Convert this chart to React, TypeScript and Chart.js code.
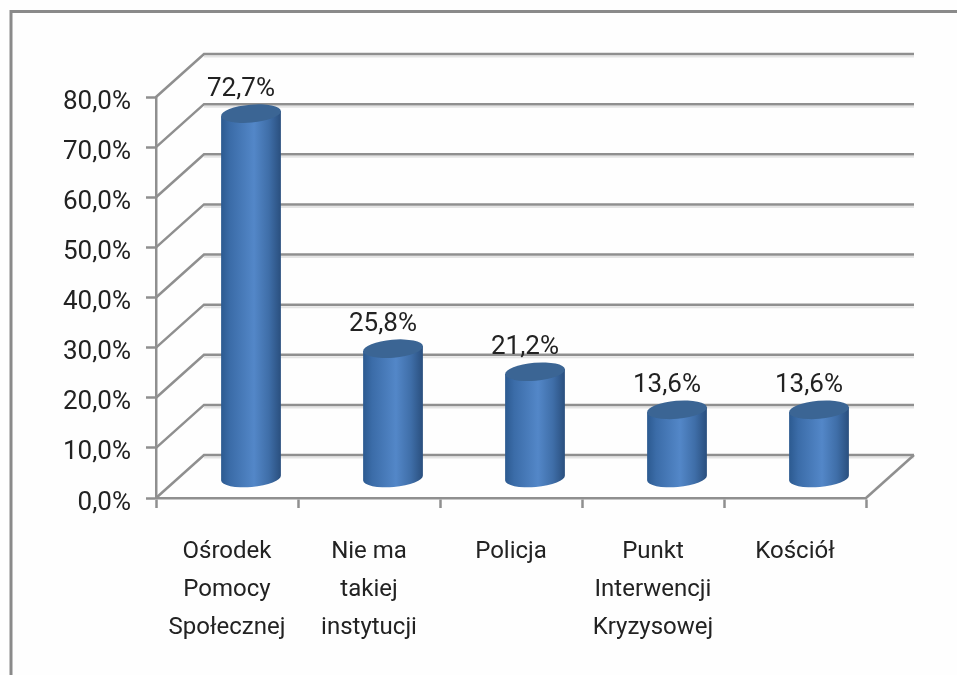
import React, { useEffect, useRef } from "react";
import { Chart, registerables } from "chart.js";

Chart.register(...registerables);

const categories = [
  ["Ośrodek", "Pomocy", "Społecznej"],
  ["Nie ma", "takiej", "instytucji"],
  ["Policja"],
  ["Punkt", "Interwencji", "Kryzysowej"],
  ["Kościół"],
];
const values = [72.7, 25.8, 21.2, 13.6, 13.6];
const yMax = 80;
const yStep = 10;

const FONT = "Roboto";
const TEXT = "#222222";
const GRID = "#8f8f8f";
const DEPTH_X = 48;
const DEPTH_Y = 43;

const fmt = (v: number) => v.toFixed(1).replace(".", ",") + "%";

const cylinders = {
  id: "cylinders",
  beforeDraw(chart: any) {
    const { ctx, width, height } = chart;
    ctx.save();
    ctx.fillStyle = "#fefefe";
    ctx.fillRect(0, 0, width, height);
    ctx.strokeStyle = "#8a8a8a";
    ctx.lineWidth = 3;
    ctx.beginPath();
    ctx.moveTo(11, height);
    ctx.lineTo(11, 11.5);
    ctx.lineTo(width, 11.5);
    ctx.stroke();
    ctx.restore();
  },
  beforeDatasetsDraw(chart: any) {
    const { ctx, scales } = chart;
    const { x: xs, y: ys } = scales;
    const L = xs.left;
    const R = xs.right;
    ctx.save();
    ys.ticks.forEach((t: any) => {
      const y = ys.getPixelForValue(t.value);
      ctx.strokeStyle = "#e4e4e4";
      ctx.lineWidth = 2;
      ctx.beginPath();
      ctx.moveTo(L + DEPTH_X, y - DEPTH_Y + 2.5);
      ctx.lineTo(R + DEPTH_X, y - DEPTH_Y + 2.5);
      ctx.stroke();
      ctx.strokeStyle = GRID;
      ctx.lineWidth = 2.5;
      ctx.beginPath();
      ctx.moveTo(L, y);
      ctx.lineTo(L + DEPTH_X, y - DEPTH_Y);
      ctx.lineTo(R + DEPTH_X, y - DEPTH_Y);
      ctx.stroke();
    });
    const y0 = ys.getPixelForValue(0);
    ctx.beginPath();
    ctx.moveTo(R, y0);
    ctx.lineTo(R + DEPTH_X, y0 - DEPTH_Y);
    ctx.stroke();
    ctx.restore();
  },
  afterDatasetsDraw(chart: any) {
    const { ctx, scales } = chart;
    const ys = scales.y;
    const meta = chart.getDatasetMeta(0);
    const rx = 30;
    const ry = 9;
    const tilt = (-5 * Math.PI) / 180;
    const shiftX = 24;
    const shiftY = 20;
    const dx = rx * Math.cos(tilt);
    const dy = rx * Math.sin(tilt);
    const y0 = ys.getPixelForValue(0);
    ctx.save();
    meta.data.forEach((bar: any, i: number) => {
      const cx = bar.x + shiftX;
      const top = bar.y - shiftY;
      const base = y0 - shiftY;
      const g = ctx.createLinearGradient(cx - dx, 0, cx + dx, 0);
      g.addColorStop(0, "#2c5a90");
      g.addColorStop(0.15, "#3b6ca8");
      g.addColorStop(0.55, "#5387c8");
      g.addColorStop(0.8, "#3f6ea8");
      g.addColorStop(1, "#2a4f7e");
      ctx.fillStyle = g;
      ctx.beginPath();
      ctx.moveTo(cx - dx, top - dy);
      ctx.lineTo(cx - dx, base - dy);
      ctx.ellipse(cx, base, rx, ry, tilt, Math.PI, 0, true);
      ctx.lineTo(cx + dx, top + dy);
      ctx.closePath();
      ctx.fill();
      ctx.fillStyle = "#3b6594";
      ctx.beginPath();
      ctx.ellipse(cx, top, rx, ry, tilt, 0, Math.PI * 2);
      ctx.fill();
      ctx.fillStyle = TEXT;
      ctx.font = `26px ${FONT}`;
      ctx.textAlign = "center";
      ctx.textBaseline = "middle";
      ctx.fillText(fmt(values[i]), cx - 10, top - 24);
    });
    ctx.restore();
  },
};

export default function App() {
  const ref = useRef<HTMLCanvasElement>(null);
  useEffect(() => {
    const chart = new Chart(ref.current!, {
      type: "bar",
      data: {
        labels: categories,
        datasets: [{ data: values, backgroundColor: "transparent", borderWidth: 0 }],
      },
      options: {
        animation: false,
        responsive: false,
        events: [],
        layout: { padding: { top: 97, right: 91, left: 0, bottom: 0 } },
        plugins: { legend: { display: false }, tooltip: { enabled: false } },
        scales: {
          x: {
            afterFit: (s: any) => { s.height = 177; },
            grid: { drawOnChartArea: false, tickLength: 10, tickColor: "#8f8f8f", tickWidth: 2.5 },
            border: { color: "#8f8f8f", width: 2.5 },
            ticks: {
              color: TEXT,
              padding: 25,
              maxRotation: 0,
              autoSkip: false,
              font: { family: FONT, size: 24, lineHeight: "38px" as any },
            },
          },
          y: {
            min: 0,
            max: yMax,
            afterFit: (s: any) => { s.width = 156; },
            grid: { drawOnChartArea: false, tickLength: 10, tickColor: "#8f8f8f", tickWidth: 2.5 },
            border: { color: "#8f8f8f", width: 2.5 },
            ticks: {
              stepSize: yStep,
              color: TEXT,
              padding: 15,
              labelOffset: 5,
              font: { family: FONT, size: 26 },
              callback: (v: any) => fmt(Number(v)),
            },
          },
        },
      },
      plugins: [cylinders],
    });
    return () => chart.destroy();
  }, []);
  return (
    <canvas
      ref={ref}
      width={957}
      height={675}
      style={{ position: "fixed", left: 0, top: 0, width: 957, height: 675, filter: "blur(0.6px)" }}
    />
  );
}
